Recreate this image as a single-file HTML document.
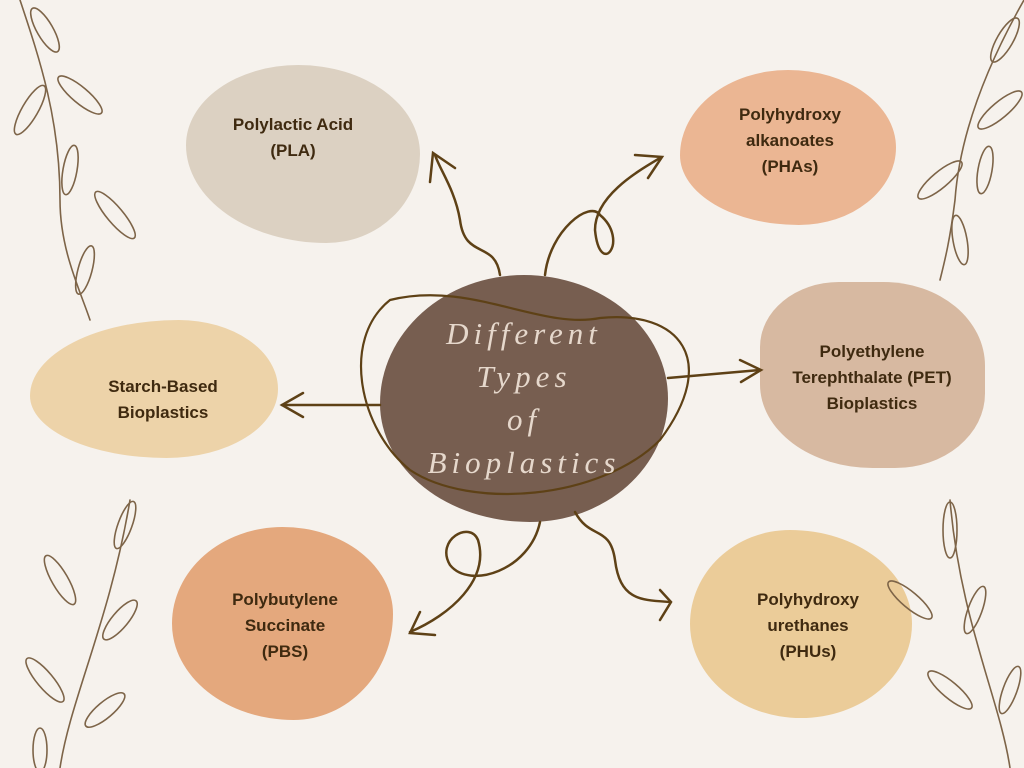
<!DOCTYPE html>
<html><head><meta charset="utf-8"><style>
body{margin:0;width:1024px;height:768px;overflow:hidden;background:#f6f2ed;position:relative;font-family:"Liberation Sans",sans-serif}
.b{position:absolute}
.t{position:absolute;transform:translateX(-50%);text-align:center;font-weight:bold;font-size:17px;line-height:26px;color:#3f2a10;white-space:nowrap}
</style></head><body>
<div class="b" style="left:186px;top:65px;width:234px;height:178px;background:#dcd1c2;border-radius:48% 52% 40% 60%/45% 50% 50% 55%"></div>
<div class="b" style="left:680px;top:70px;width:216px;height:155px;background:#ebb693;border-radius:50% 50% 45% 55%/55% 50% 50% 45%"></div>
<div class="b" style="left:30px;top:320px;width:248px;height:138px;background:#edd3a9;border-radius:60% 40% 45% 55%/55% 50% 50% 45%"></div>
<div class="b" style="left:760px;top:282px;width:225px;height:186px;background:#d7b9a1;border-radius:35% 45% 40% 50%/35% 45% 40% 45%"></div>
<div class="b" style="left:172px;top:527px;width:221px;height:193px;background:#e4a87d;border-radius:50% 50% 45% 55%/50% 45% 55% 50%"></div>
<div class="b" style="left:690px;top:530px;width:222px;height:188px;background:#ebcc99;border-radius:45% 55% 50% 50%/50% 50% 50% 50%"></div>
<div class="b" style="left:380px;top:275px;width:288px;height:247px;background:#775e50;border-radius:50% 50% 48% 52%/52% 50% 50% 48%"></div>
<svg class="b" style="left:0;top:0" width="1024" height="768" viewBox="0 0 1024 768" fill="none" stroke="#5e4116" stroke-width="2.5" stroke-linecap="round">
<path d="M500 275 C495 240 465 260 460 220 C455 190 440 170 435 155"/><path d="M430 182 L433 153 L455 168"/>
<path d="M545 275 C550 230 590 200 600 215 C630 240 600 280 595 230 C595 195 640 170 660 158"/><path d="M635 155 L662 157 L648 178"/>
<path d="M380 405 L282 405"/><path d="M303 393 L282 405 L303 417"/>
<path d="M668 378 L760 370"/><path d="M740 360 L761 370 L741 382"/>
<path d="M540 522 C530 570 470 590 450 565 C435 540 470 520 478 540 C490 580 450 615 410 632"/><path d="M420 612 L410 633 L435 635"/>
<path d="M575 512 C590 540 610 525 615 560 C620 600 640 600 670 602"/><path d="M660 590 L671 602 L660 620"/>
<path d="M390 300 C470 280 540 330 600 318 C680 310 720 360 660 440 C600 500 470 510 410 470 C360 430 340 340 390 300" stroke-width="2.2"/>
<g stroke="#7d6448" stroke-width="1.6">
<path d="M20 0 C40 60 60 120 60 200 C60 250 80 290 90 320"/>
<ellipse cx="45" cy="30" rx="8" ry="25" transform="rotate(-30 45 30)"/><ellipse cx="80" cy="95" rx="8" ry="28" transform="rotate(-50 80 95)"/>
<ellipse cx="30" cy="110" rx="8" ry="28" transform="rotate(30 30 110)"/><ellipse cx="70" cy="170" rx="7" ry="25" transform="rotate(10 70 170)"/>
<ellipse cx="115" cy="215" rx="8" ry="30" transform="rotate(-40 115 215)"/><ellipse cx="85" cy="270" rx="7" ry="25" transform="rotate(15 85 270)"/>
<path d="M1024 0 C990 60 960 130 955 200 C950 240 945 260 940 280"/>
<ellipse cx="1005" cy="40" rx="8" ry="25" transform="rotate(30 1005 40)"/><ellipse cx="1000" cy="110" rx="8" ry="28" transform="rotate(50 1000 110)"/>
<ellipse cx="940" cy="180" rx="8" ry="28" transform="rotate(50 940 180)"/><ellipse cx="985" cy="170" rx="7" ry="24" transform="rotate(10 985 170)"/>
<ellipse cx="960" cy="240" rx="7" ry="25" transform="rotate(-10 960 240)"/>
<path d="M60 768 C70 700 110 620 130 500"/>
<ellipse cx="125" cy="525" rx="7" ry="25" transform="rotate(20 125 525)"/><ellipse cx="60" cy="580" rx="8" ry="28" transform="rotate(-30 60 580)"/>
<ellipse cx="120" cy="620" rx="8" ry="25" transform="rotate(40 120 620)"/><ellipse cx="45" cy="680" rx="8" ry="28" transform="rotate(-40 45 680)"/>
<ellipse cx="105" cy="710" rx="8" ry="25" transform="rotate(50 105 710)"/><ellipse cx="40" cy="750" rx="7" ry="22"/>
<path d="M1010 768 C1000 700 960 620 950 500"/>
<ellipse cx="950" cy="530" rx="7" ry="28"/><ellipse cx="910" cy="600" rx="8" ry="28" transform="rotate(-50 910 600)"/>
<ellipse cx="975" cy="610" rx="7" ry="25" transform="rotate(20 975 610)"/><ellipse cx="950" cy="690" rx="8" ry="28" transform="rotate(-50 950 690)"/>
<ellipse cx="1010" cy="690" rx="7" ry="25" transform="rotate(20 1010 690)"/>
</g>
</svg>
<div class="t" style="left:293px;top:112px">Polylactic Acid<br>(PLA)</div>
<div class="t" style="left:790px;top:102px">Polyhydroxy<br>alkanoates<br>(PHAs)</div>
<div class="t" style="left:163px;top:374px">Starch-Based<br>Bioplastics</div>
<div class="t" style="left:872px;top:339px">Polyethylene<br>Terephthalate (PET)<br>Bioplastics</div>
<div class="t" style="left:285px;top:587px">Polybutylene<br>Succinate<br>(PBS)</div>
<div class="t" style="left:808px;top:587px">Polyhydroxy<br>urethanes<br>(PHUs)</div>
<div class="t" style="left:524px;top:312px;font-weight:normal;font-style:italic;font-family:'Liberation Serif',serif;font-size:31px;line-height:43px;letter-spacing:5px;color:#e6d8cc">Different<br>Types<br>of<br>Bioplastics</div>
</body></html>
